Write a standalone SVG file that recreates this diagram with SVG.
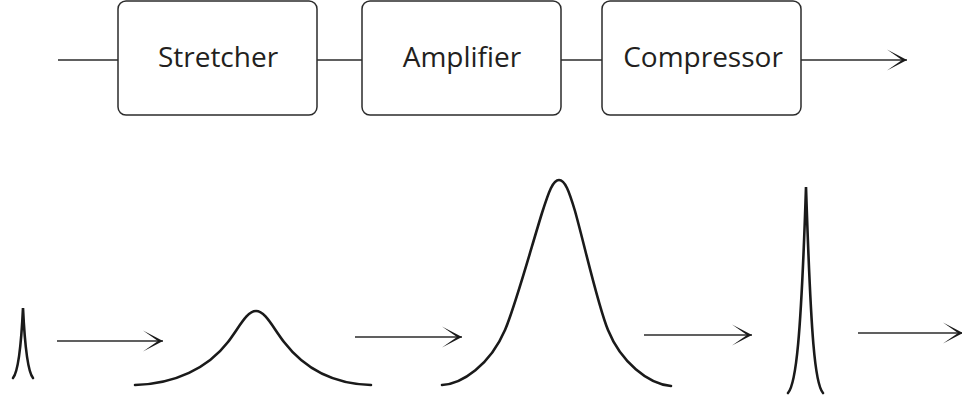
<svg xmlns="http://www.w3.org/2000/svg" width="962" height="398" viewBox="0 0 962 398">
  <style>
    .box { fill: #ffffff; stroke: #2b2b2b; stroke-width: 1.5; }
    .label { font-family: "Open Sans", "Liberation Sans", sans-serif; font-size: 28px; fill: #231f20; text-anchor: middle; }
    .wire { fill: none; stroke: #2b2b2b; stroke-width: 1.5; }
    .pulse { fill: none; stroke: #1a1a1a; stroke-width: 2.6; stroke-linecap: round; }
  </style>
  <defs>
    <!-- barbed arrowhead, tip at the path end -->
    <marker id="head" markerUnits="userSpaceOnUse" markerWidth="24" markerHeight="24" viewBox="-22 -12 24 24" refX="0" refY="0" orient="auto">
      <path d="M0,0 L-20,-10.5 Q-10,-3.5 -5,0 Q-10,3.5 -20,10.5 Z" fill="#1a1a1a"/>
    </marker>
  </defs>

  <rect width="962" height="398" fill="#ffffff"/>

  <!-- signal chain connectors -->
  <g id="connectors">
    <line class="wire" x1="58" y1="60" x2="118" y2="60"/>
    <line class="wire" x1="317" y1="60" x2="362" y2="60"/>
    <line class="wire" x1="561" y1="60" x2="602" y2="60"/>
    <line class="wire" x1="801" y1="60" x2="907" y2="60" marker-end="url(#head)"/>
    <line class="wire" x1="57" y1="341" x2="163" y2="341" marker-end="url(#head)"/>
    <line class="wire" x1="355" y1="337" x2="462" y2="337" marker-end="url(#head)"/>
    <line class="wire" x1="644" y1="335" x2="752" y2="335" marker-end="url(#head)"/>
    <line class="wire" x1="858" y1="333" x2="963" y2="333" marker-end="url(#head)"/>
  </g>

  <g id="stretcher">
    <rect class="box" x="118" y="1" width="199" height="114" rx="8"/>
    <text class="label" x="218" y="67">Stretcher</text>
  </g>
  <g id="amplifier">
    <rect class="box" x="362" y="1" width="199" height="114" rx="8"/>
    <text class="label" x="462" y="67">Amplifier</text>
  </g>
  <g id="compressor">
    <rect class="box" x="602" y="1" width="199" height="114" rx="8"/>
    <text class="label" x="703" y="67">Compressor</text>
  </g>

  <!-- pulse profiles at each stage -->
  <g id="pulse-input">
    <path class="pulse" d="M13,378 C18,372 21,350 23,308 C25,350 28,372 33,378"/>
  </g>
  <g id="pulse-stretched">
    <path class="pulse" d="M135,385 C175,384 208,368 228,342 C240,326 247,311 256,311 C265,311 272,326 284,342 C304,368 333,384 371,385"/>
  </g>
  <g id="pulse-amplified">
    <path class="pulse" d="M442,385 C462,384 490,365 505,330 C515,307 532,245 542,213 C549,191 553,180 559,180 C565,180 569,191 575,211 C584,243 598,306 608,330 C621,362 648,384 671,386"/>
  </g>
  <g id="pulse-compressed">
    <path class="pulse" d="M788,393 C796,384 801,340 806,187 C811,340 815,384 823,393"/>
  </g>
</svg>
